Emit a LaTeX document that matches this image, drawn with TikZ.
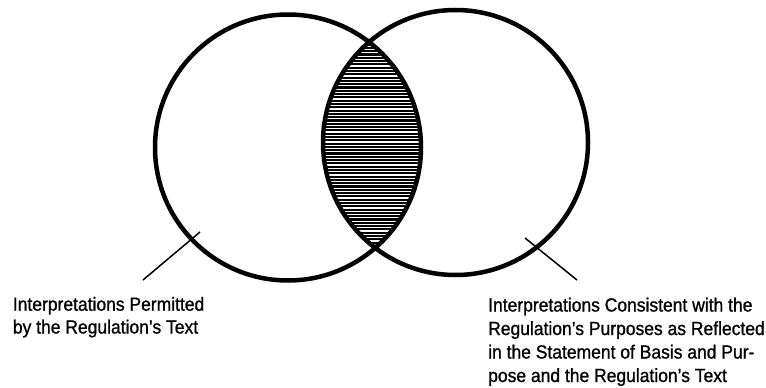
\documentclass[tikz,border=0pt]{standalone}
\usepackage{fontspec}
\setmainfont{Liberation Sans}[FakeStretch=0.92,FakeBold=1]
\begin{document}
\begin{tikzpicture}[x=1pt,y=-1pt,
  ring/.style={circle,draw,line width=4.5pt,inner sep=0pt,outer sep=0pt},
  leader/.style={line width=1.5pt},
  lbl/.style={anchor=base west,inner sep=0pt,font=\fontsize{19}{23}\selectfont}]
\useasboundingbox (0,0) rectangle (766,388);
% hatching of the overlap
\begin{scope}
  \clip (288,147.5) circle[radius=133];
  \clip (455.5,142.5) circle[radius=132.5];
  \foreach \yy in {38,41.3,...,255}{
    \draw[line width=2.1pt] (300,\yy) -- (440,\yy);
  }
\end{scope}
\node[ring,minimum size=266pt] (L) at (288,147.5) {};
\node[ring,minimum size=265pt] (R) at (455.5,142.5) {};
% leaders
\coordinate (la) at (143,280);
\coordinate (lb) at (200,232);
\coordinate (ra) at (525,238);
\coordinate (rb) at (577,280);
\draw[leader] (la) -- (lb);
\draw[leader] (ra) -- (rb);
% labels
\node[lbl] (l1) at (12.7,310.7) {Interpretations Permitted};
\node[lbl] (l2) at (12.7,333.5) {by the Regulation’s Text};
\node[lbl] (r1) at (488,311.5) {Interpretations Consistent with the};
\node[lbl] (r2) at (488,335) {Regulation’s Purposes as Reflected};
\node[lbl] (r3) at (488,358.5) {in the Statement of Basis and Pur-};
\node[lbl] (r4) at (488,382) {pose and the Regulation’s Text};
\end{tikzpicture}
\end{document}
